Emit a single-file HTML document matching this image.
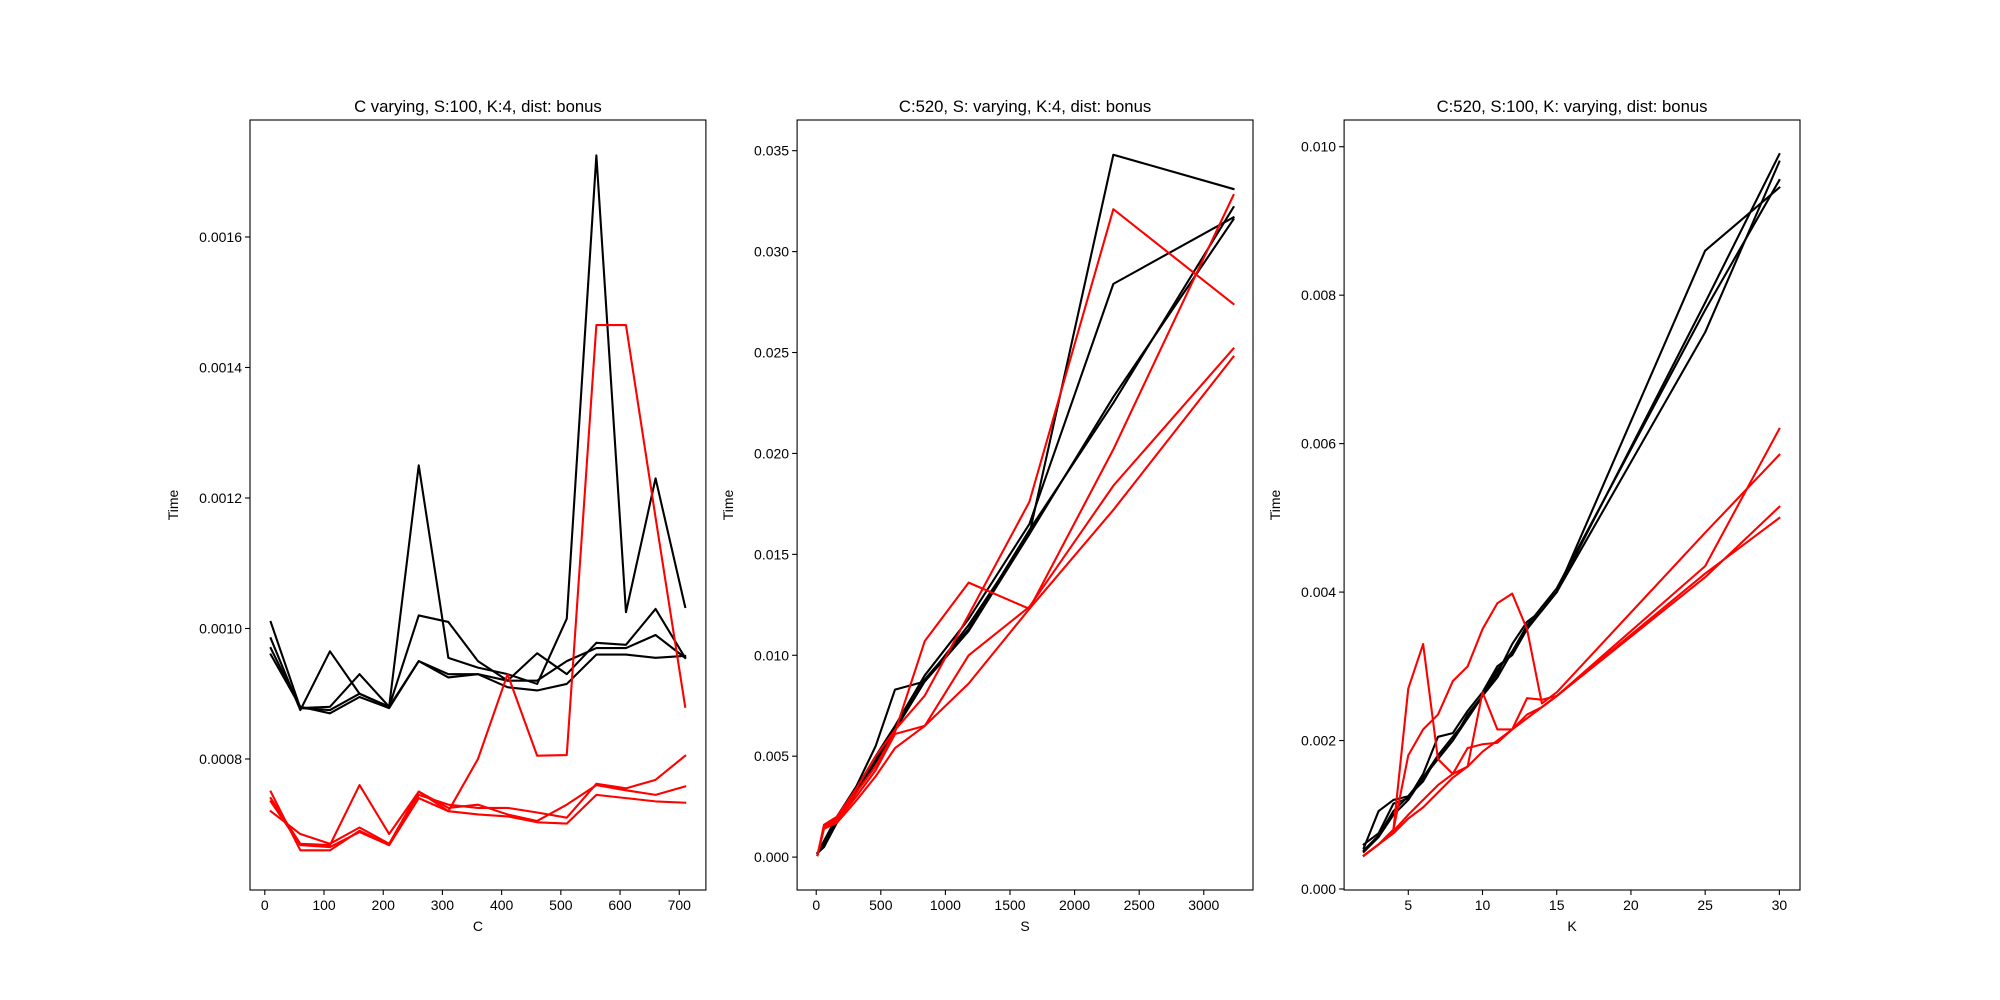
<!DOCTYPE html>
<html><head><meta charset="utf-8"><style>
body{margin:0;background:#fff}
svg{display:block;font-family:"Liberation Sans","DejaVu Sans",sans-serif}
</style></head><body>
<svg id="fig" width="2000" height="1000" viewBox="0 0 2000 1000"></svg>
<script>
// ---- Panel 1: C varying ----
const cValues = [10,60,110,160,210,260,310,360,410,460,510,560,610,660,710];
const cBlack1 = [1.01,0.878,0.88,0.93,0.88,1.25,0.955,0.94,0.93,0.915,1.015,1.725,1.025,1.23,1.033];
const cBlack2 = [0.985,0.875,0.965,0.90,0.88,1.02,1.01,0.95,0.92,0.962,0.93,0.978,0.975,1.03,0.955];
const cBlack3 = [0.97,0.878,0.875,0.90,0.88,0.95,0.93,0.93,0.92,0.92,0.95,0.97,0.97,0.99,0.955];
const cBlack4 = [0.96,0.88,0.87,0.895,0.878,0.95,0.925,0.93,0.91,0.905,0.915,0.96,0.96,0.955,0.958];
const cRed1 = [0.72,0.685,0.67,0.695,0.67,0.75,0.72,0.80,0.93,0.805,0.806,1.465,1.465,1.17,0.88];
const cRed2 = [0.75,0.66,0.66,0.69,0.668,0.745,0.73,0.725,0.725,0.718,0.71,0.762,0.755,0.768,0.805];
const cRed3 = [0.74,0.67,0.668,0.76,0.685,0.75,0.725,0.73,0.715,0.705,0.73,0.76,0.752,0.745,0.758];
const cRed4 = [0.735,0.668,0.665,0.688,0.668,0.74,0.72,0.715,0.712,0.703,0.701,0.745,0.74,0.735,0.733];
const cYTicks = ["0.0008","0.0010","0.0012","0.0014","0.0016"];
const cXTicks = [0,100,200,300,400,500,600,700];
// ---- Panel 2: S varying ----
const sValues = [10,60,160,310,460,610,840,1180,1650,2300,3230];
const sBlack1 = [0.2,0.8,2.0,3.5,5.5,8.3,8.7,11.5,16.0,34.8,33.1];
const sBlack2 = [0.2,0.6,1.8,3.4,5.0,6.5,9.0,11.8,16.5,28.4,31.7];
const sBlack3 = [0.2,0.5,1.8,3.3,4.8,6.4,8.8,11.3,16.2,22.5,32.2];
const sBlack4 = [0.2,0.5,1.7,3.2,4.7,6.3,8.7,11.2,16.0,22.8,31.6];
const sRed1 = [0.1,1.5,1.9,3.2,4.5,6.2,10.7,13.6,12.3,20.2,32.8];
const sRed2 = [0.1,1.6,2.0,3.4,5.0,6.3,8.0,12.0,17.6,32.1,27.4];
const sRed3 = [0.1,1.5,1.8,3.0,4.3,6.1,6.5,10.0,12.4,18.4,25.2];
const sRed4 = [0.1,1.4,1.7,2.8,4.0,5.4,6.5,8.6,12.3,17.2,24.8];
const sYTicks = ["0.000","0.005","0.010","0.015","0.020","0.025","0.030","0.035"];
const sXTicks = [0,500,1000,1500,2000,2500,3000];
// ---- Panel 3: K varying ----
const kValues = [2,3,4,5,6,7,8,9,10,11,12,13,14,15,25,30];
const kBlack1 = [0.55,1.05,1.2,1.25,1.45,1.8,2.05,2.3,2.6,2.9,3.3,3.6,3.75,4.0,8.6,9.45];
const kBlack2 = [0.6,0.75,1.15,1.22,1.55,2.05,2.1,2.4,2.65,3.0,3.15,3.5,3.8,4.0,7.9,9.9];
const kBlack3 = [0.5,0.7,1.0,1.2,1.5,1.75,2.0,2.35,2.6,2.85,3.2,3.5,3.75,4.0,7.5,9.8];
const kBlack4 = [0.52,0.72,1.05,1.25,1.5,1.8,2.0,2.3,2.6,2.95,3.2,3.55,3.8,4.05,7.8,9.55];
const kRed1 = [0.45,0.6,0.8,2.7,3.3,1.75,1.55,1.65,2.65,2.15,2.15,2.57,2.55,2.6,4.35,6.2];
const kRed2 = [0.45,0.6,0.8,1.8,2.15,2.35,2.8,3.0,3.5,3.85,3.98,3.5,2.5,2.65,4.8,5.85];
const kRed3 = [0.45,0.6,0.78,1.0,1.2,1.4,1.55,1.9,1.95,1.97,2.15,2.35,2.45,2.6,4.2,5.15];
const kRed4 = [0.45,0.6,0.75,0.95,1.1,1.3,1.5,1.65,1.85,2.0,2.15,2.3,2.45,2.6,4.25,5.0];
const kYTicks = ["0.000","0.002","0.004","0.006","0.008","0.010"];
const kXTicks = [5,10,15,20,25,30];

const NS = "http://www.w3.org/2000/svg";
const fig = document.getElementById('fig');
function mk(tag, attrs, parent){const e=document.createElementNS(NS,tag);for(const k in attrs)e.setAttribute(k,attrs[k]);(parent||fig).appendChild(e);return e;}

function panel(cfg){
  const L=cfg.left, R=cfg.left+455.9, T=120, B=890;
  const g=mk('g',{});
  
  
  const xs=v=>L+(v-cfg.xmin)/(cfg.xmax-cfg.xmin)*(R-L);
  const ys=v=>B-(v-cfg.ymin)/(cfg.ymax-cfg.ymin)*(B-T);
  const lines=[[cfg.black,'#000'],[cfg.red,'#ff0000']];
  lines.forEach(([set,col])=>set.forEach((vals,i)=>{
    const pts=vals.map((v,j)=>xs(cfg.x[j]).toFixed(2)+','+ys(v*cfg.scale).toFixed(2)).join(' ');
    const p=mk('polyline',{points:pts,fill:'none',stroke:col,'stroke-width':2.1,'stroke-linejoin':'round','stroke-linecap':'square'},g);
    
    
  }));
  const fr=mk('rect',{x:L,y:T,width:R-L,height:B-T,fill:'none',stroke:'#000','stroke-width':1.1},g);
  
  
  cfg.xt.forEach(v=>{
    const x=xs(v);
    mk('line',{x1:x,x2:x,y1:B,y2:B+5,stroke:'#000','stroke-width':1.1},g);
    const t=mk('text',{x:x,y:B+20,'font-size':14,'text-anchor':'middle',fill:'#000'},g);
    t.textContent=v;
    
    
  });
  cfg.yt.forEach(s=>{
    const y=ys(parseFloat(s));
    mk('line',{x1:L-5,x2:L,y1:y,y2:y,stroke:'#000','stroke-width':1.1},g);
    const t=mk('text',{x:L-8,y:y+5,'font-size':14,'text-anchor':'end',fill:'#000'},g);
    t.textContent=s;
    
    
  });
  const ti=mk('text',{x:(L+R)/2,y:112,'font-size':16.7,'text-anchor':'middle',fill:'#000'},g);
  ti.textContent=cfg.title;
  
  
  const xl=mk('text',{x:(L+R)/2,y:931,'font-size':14,'text-anchor':'middle',fill:'#000'},g);
  xl.textContent=cfg.xlabel;
  
  
  const yx=cfg.left-cfg.ylabOff;
  const yl=mk('text',{x:yx,y:505,'font-size':14,'text-anchor':'middle',fill:'#000',transform:`rotate(-90 ${yx} 505)`},g);
  yl.textContent='Time';
  
  
}

panel({name:'panel-c-varying',left:250,x:cValues,black:[cBlack1,cBlack2,cBlack3,cBlack4],red:[cRed1,cRed2,cRed3,cRed4],scale:1e-3,
  xmin:-25,xmax:745,ymin:0.0005992,ymax:0.0017793,xt:cXTicks,yt:cYTicks,title:'C varying, S:100, K:4, dist: bonus',xlabel:'C',ylabOff:72});
panel({name:'panel-s-varying',left:797.1,x:sValues,black:[sBlack1,sBlack2,sBlack3,sBlack4],red:[sRed1,sRed2,sRed3,sRed4],scale:1e-3,
  xmin:-148,xmax:3381,ymin:-0.00163,ymax:0.03652,xt:sXTicks,yt:sYTicks,title:'C:520, S: varying, K:4, dist: bonus',xlabel:'S',ylabOff:64});
panel({name:'panel-k-varying',left:1344.1,x:kValues,black:[kBlack1,kBlack2,kBlack3,kBlack4],red:[kRed1,kRed2,kRed3,kRed4],scale:1e-3,
  xmin:0.676,xmax:31.39,ymin:-0.0000135,ymax:0.01036,xt:kXTicks,yt:kYTicks,title:'C:520, S:100, K: varying, dist: bonus',xlabel:'K',ylabOff:64});
</script>
</body></html>
